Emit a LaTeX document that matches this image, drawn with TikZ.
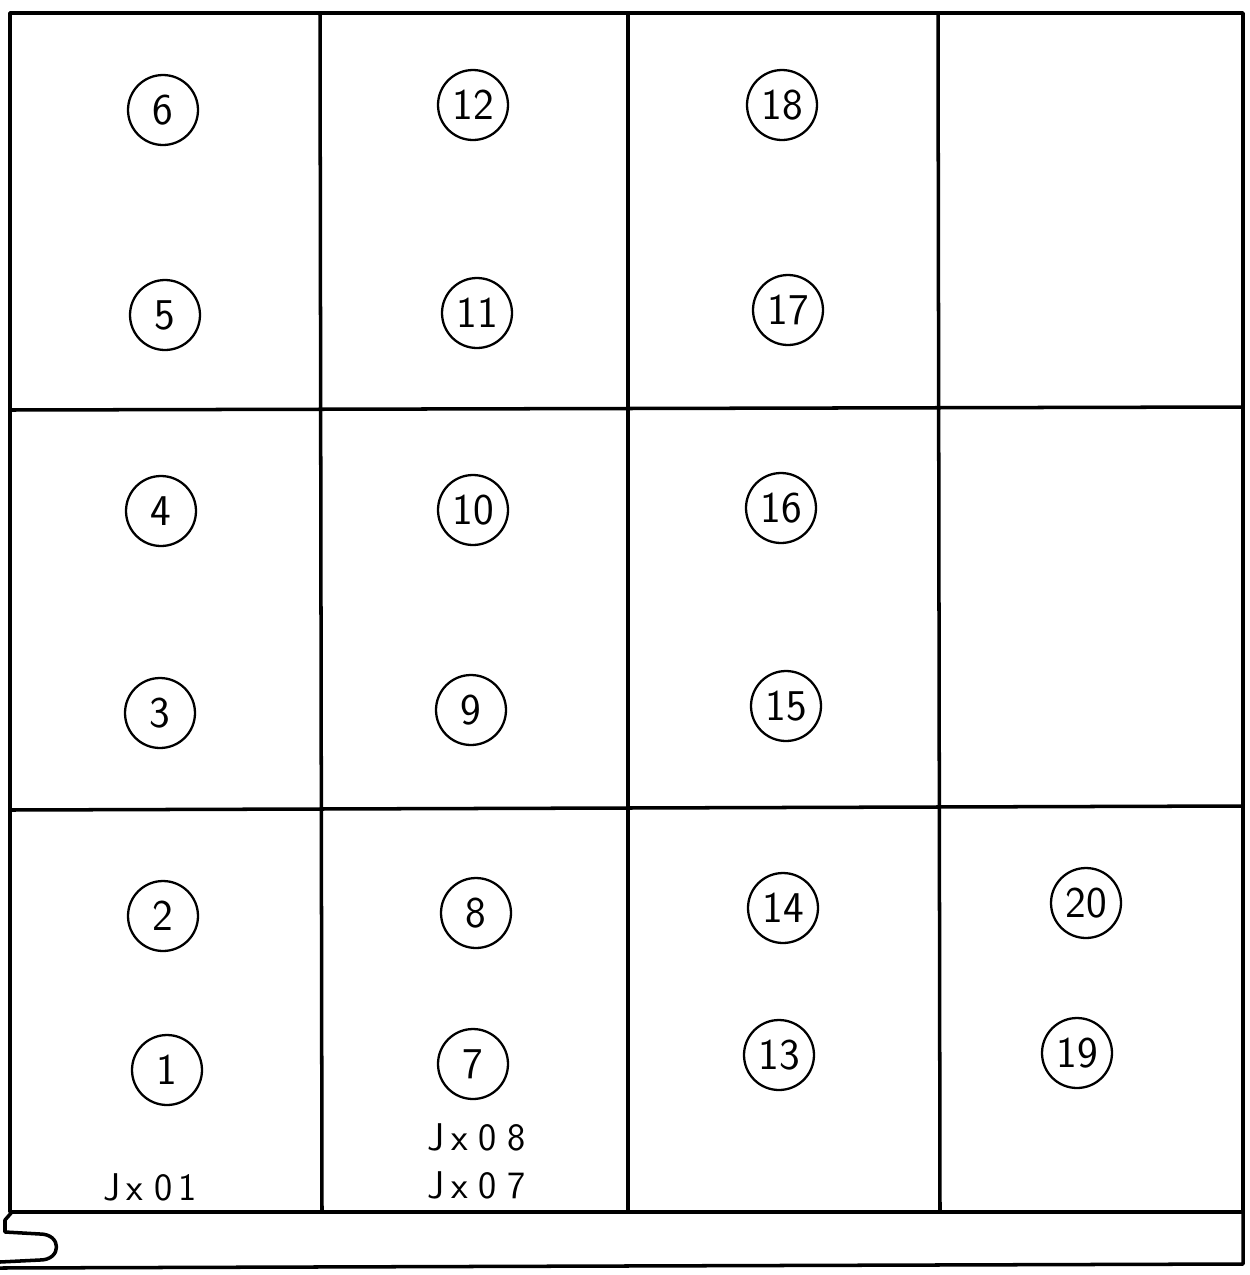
\documentclass[tikz,border=0pt]{standalone}
\usepackage{tikz}
\usetikzlibrary{positioning}

\begin{document}
\begin{tikzpicture}[
        x=0.02cm, y=-0.02cm,
        wall/.style={draw=black, line width=2pt, line join=round},
        spot/.style={circle, draw=black, line width=1.3pt, minimum size=1.4cm, inner sep=0pt, font=\sffamily\fontsize{25}{27}\selectfont},
        tag/.style={font=\sffamily\fontsize{22}{26}\selectfont}
    ]
    \useasboundingbox (0,0) rectangle (1249,1275);

    % Grid
    \draw[wall] (10,13) rectangle (1243,1212);
    \draw[wall] (320,13) -- (322,1212);
    \draw[wall] (628,13) -- (628,1212);
    \draw[wall] (938,13) -- (940,1212);
    \draw[wall] (10,410) -- (1243,407);
    \draw[wall] (10,810) -- (1243,806);

    % Bottom strip
    \draw[wall] (12,1212) -- (5,1220) -- (5,1232) -- (40,1234)
        .. controls (62,1234) and (62,1260) .. (40,1260) -- (0,1262);
    \draw[wall] (1243,1212) -- (1243,1264) -- (0,1268);

    % Column 1
    \node[spot] (s6) at (163,110) {6};
    \node[spot] (s5) at (165,315) {5};
    \node[spot] (s4) at (161,511) {4};
    \node[spot] (s3) at (160,713) {3};
    \node[spot] (s2) at (163,916) {2};
    \node[spot] (s1) at (167,1070) {1};

    % Column 2
    \node[spot] (s12) at (473,105) {12};
    \node[spot] (s11) at (477,313) {11};
    \node[spot] (s10) at (473,510) {10};
    \node[spot] (s9) at (471,710) {9};
    \node[spot] (s8) at (476,913) {8};
    \node[spot] (s7) at (473,1064) {7};

    % Column 3
    \node[spot] (s18) at (782,105) {18};
    \node[spot] (s17) at (788,310) {17};
    \node[spot] (s16) at (781,508) {16};
    \node[spot] (s15) at (786,706) {15};
    \node[spot] (s14) at (783,908) {14};
    \node[spot] (s13) at (779,1055) {13};

    % Column 4
    \node[spot] (s20) at (1086,903) {20};
    \node[spot] (s19) at (1077,1053) {19};

    % Labels
    \node[tag] (j01) at (150,1187) {J\,x\;0\,1};
    \node[tag] (j08) at (477,1137) {J\,x\;0\;8};
    \node[tag] (j07) at (477,1185) {J\,x\;0\;7};

    \end{tikzpicture}
\end{document}
